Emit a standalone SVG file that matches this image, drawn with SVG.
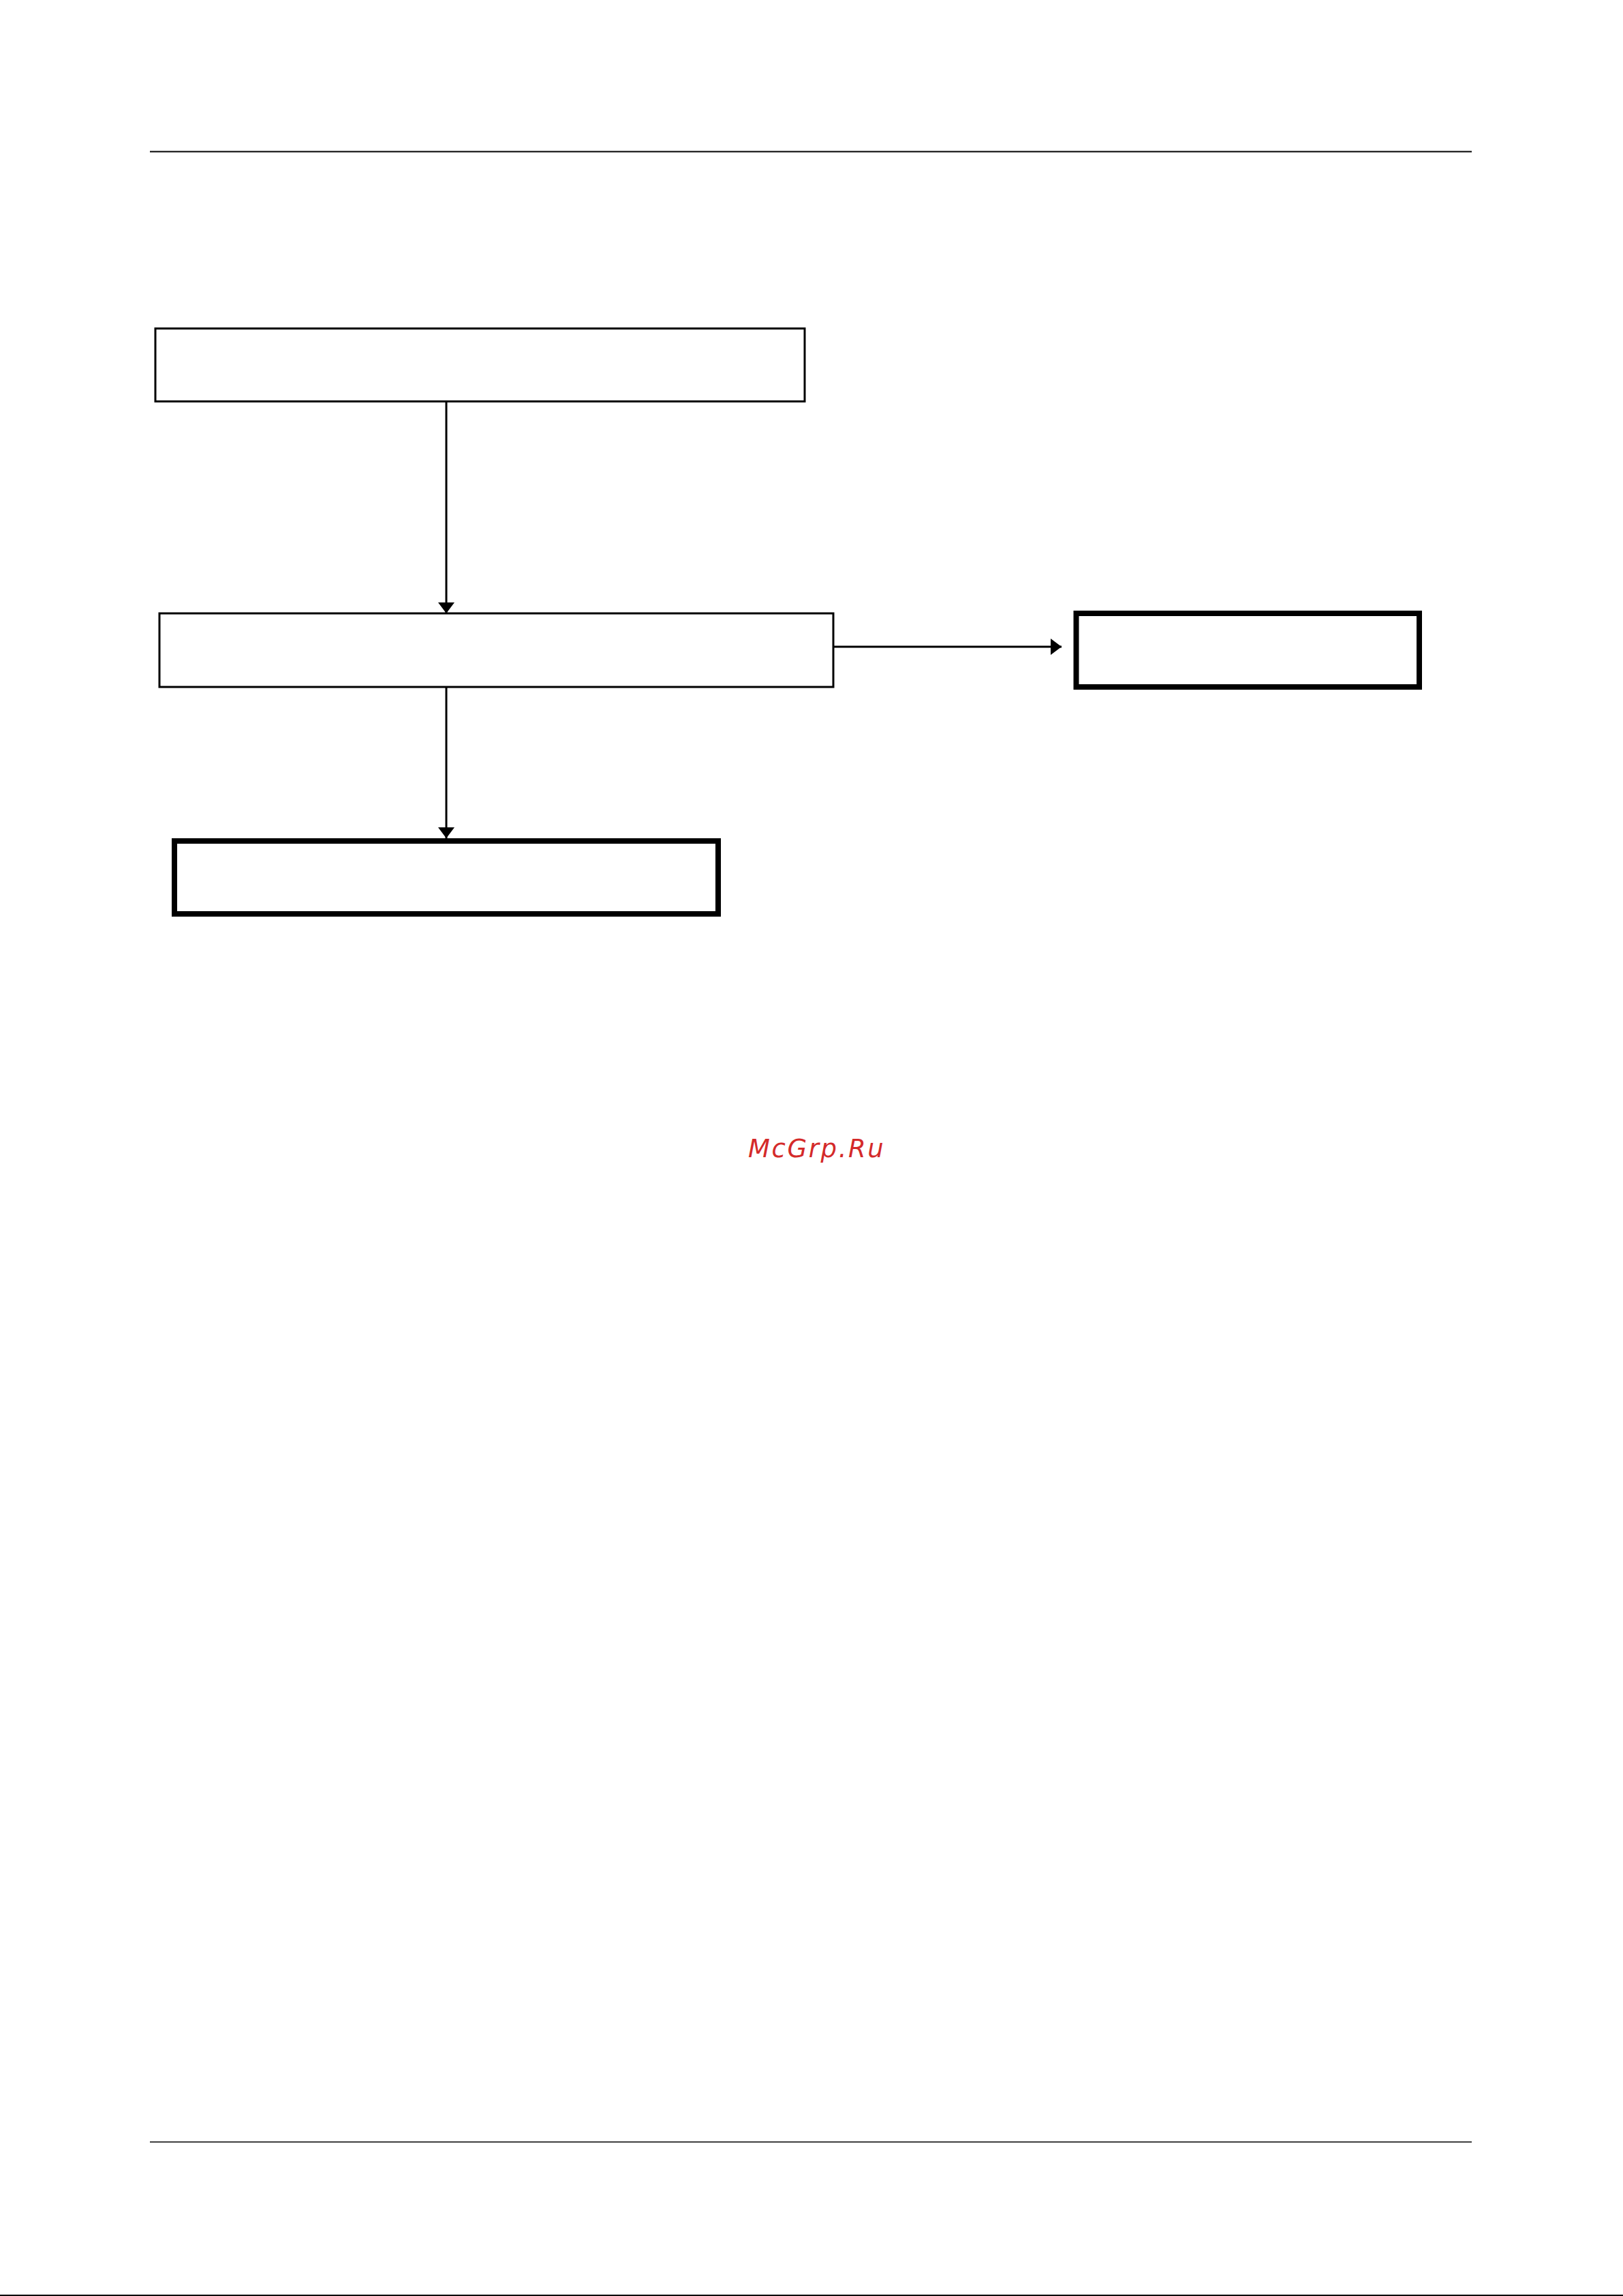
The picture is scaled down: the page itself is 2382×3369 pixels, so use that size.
<svg xmlns="http://www.w3.org/2000/svg" width="2382" height="3369" viewBox="0 0 2382 3369">
  <style>
    .rule { stroke: #000; fill: none; }
    .box { fill: #fff; stroke: #000; stroke-width: 3; }
    .box-bold { fill: #fff; stroke: #000; stroke-width: 8; }
    .conn { stroke: #000; stroke-width: 3; fill: none; }
    .wm { font-family: "DejaVu Sans", "Liberation Sans", sans-serif; font-style: italic; font-size: 37px; letter-spacing: 2.6px; fill: #d42a2a; }
  </style>
  <defs>
    <marker id="arrow" viewBox="0 0 16 24" refX="16" refY="12" markerWidth="16" markerHeight="24" markerUnits="userSpaceOnUse" orient="auto">
      <path d="M0,0 L16,12 L0,24 Z" fill="#000"/>
    </marker>
  </defs>
  <rect width="2382" height="3369" fill="#fff"/>
  <g id="page-rules">
    <line class="rule" x1="220" y1="222.5" x2="2160" y2="222.5" stroke-width="2"/>
    <line class="rule" x1="220" y1="3143" x2="2160" y2="3143" stroke-width="1.5"/>
    <line class="rule" x1="0" y1="3368" x2="2382" y2="3368" stroke-width="2"/>
  </g>
  <g id="connectors">
    <line class="conn" x1="655" y1="589" x2="655" y2="900" marker-end="url(#arrow)"/>
    <line class="conn" x1="655" y1="1008" x2="655" y2="1230" marker-end="url(#arrow)"/>
    <line class="conn" x1="1223" y1="949" x2="1558" y2="949" marker-end="url(#arrow)"/>
  </g>
  <g id="node-1">
    <rect class="box" x="228" y="482" width="953" height="107"/>
  </g>
  <g id="node-2">
    <rect class="box" x="234" y="900" width="989" height="108"/>
  </g>
  <g id="node-3">
    <rect class="box-bold" x="1579.5" y="900" width="503.5" height="108"/>
  </g>
  <g id="node-4">
    <rect class="box-bold" x="256" y="1234" width="798" height="107"/>
  </g>
  <g id="watermark">
    <text class="wm" x="1098" y="1698">McGrp.Ru</text>
  </g>
</svg>
